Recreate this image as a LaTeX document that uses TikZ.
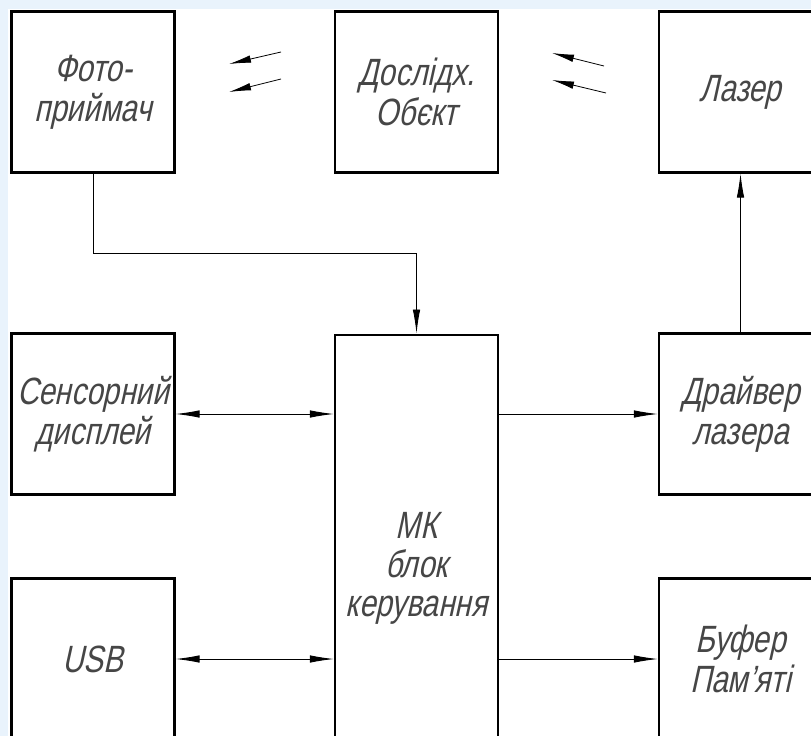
\documentclass[tikz,border=0pt]{standalone}
\usepackage{fontspec}
\setmainfont{Liberation Sans}[FakeSlant=0.22,FakeStretch=0.78]
\usetikzlibrary{arrows.meta}
\definecolor{bgblue}{RGB}{233,243,252}
\definecolor{txt}{RGB}{70,70,70}
\tikzset{
  blk/.style={draw=black, line width=2.2pt, fill=white, minimum width=163pt,
    minimum height=161pt, inner sep=0pt, align=center, text=txt,
    font=\fontsize{38}{40}\selectfont},
  conn/.style={line width=0.9pt, draw=black},
  arr/.style={conn, -{Latex[length=24pt,width=7.5pt]}},
  darr/.style={conn, {Latex[length=24pt,width=7.5pt]}-{Latex[length=24pt,width=7.5pt]}},
  ray/.style={line width=0.8pt, draw=black, -{Latex[length=22pt,width=7.5pt]}}
}
\begin{document}
\begin{tikzpicture}[x=1pt,y=-1pt]
\useasboundingbox (0,0) rectangle (811,736);
\clip (0,0) rectangle (811,736);
\fill[bgblue] (0,0) rectangle (811,736);
\fill[white] (8,9) rectangle (811,736);
% top row
\node[blk] (photo) at (93,92) {Фото-\\приймач};
\node[blk] (obj) at (416.5,92) {Дослідх.\\Обєкт};
\node[blk] (laser) at (740.5,92) {Лазер};
% middle row
\node[blk] (sens) at (93,414) {Сенсорний\\дисплей};
\node[blk, minimum height=420pt, anchor=north] (mk) at (416.5,333.5) {};
\node[text=txt, font=\fontsize{38}{39}\selectfont, align=center] (mktext) at (416.5,568) {МК\\блок\\керування};
\node[blk] (drv) at (740.5,414) {Драйвер\\лазера};
% bottom row
\node[blk] (usb) at (93,659) {USB};
\node[blk] (buf) at (740.5,659) {Буфер\\Пам’яті};
% connectors
\coordinate (jog) at (93,253);
\draw[arr] (photo.south) -- (jog) -| (mk.north);
\draw[arr] (drv.north) -- (laser.south);
\draw[darr] (sens.east) -- (mk.west |- sens.east);
\draw[darr] (usb.east) -- (mk.west |- usb.east);
\draw[arr] (mk.east |- drv.west) -- (drv.west);
\draw[arr] (mk.east |- buf.west) -- (buf.west);
% light rays
\coordinate (r1s) at (281,52);  \coordinate (r1e) at (229,64);
\coordinate (r2s) at (281,79);  \coordinate (r2e) at (229,92);
\coordinate (r3s) at (604,66);  \coordinate (r3e) at (552,53);
\coordinate (r4s) at (606,93);  \coordinate (r4e) at (552,80);
\draw[ray] (r1s) -- (r1e);
\draw[ray] (r2s) -- (r2e);
\draw[ray] (r3s) -- (r3e);
\draw[ray] (r4s) -- (r4e);
\end{tikzpicture}
\end{document}
